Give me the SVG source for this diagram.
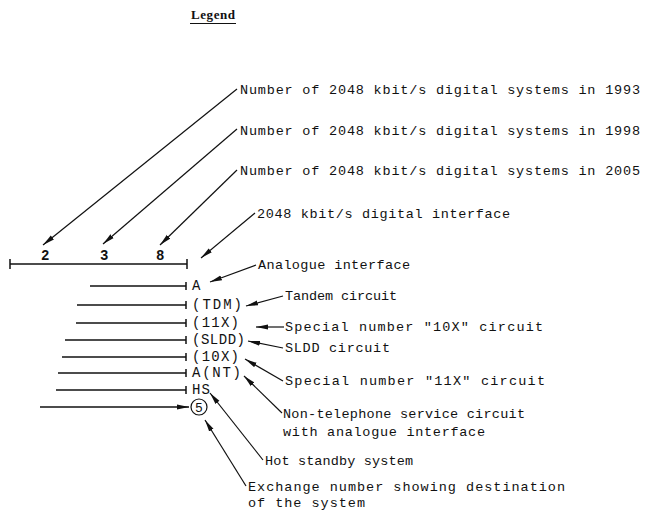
<svg xmlns="http://www.w3.org/2000/svg" width="654" height="526" viewBox="0 0 654 526">
<style>
.t{font-family:"Liberation Mono","DejaVu Sans Mono",monospace;font-size:13.5px;fill:#111}
.s{font-family:"Liberation Mono","DejaVu Sans Mono",monospace;font-size:14px;fill:#111}
.d{font-family:"Liberation Mono","DejaVu Sans Mono",monospace;font-size:14px;font-weight:bold;fill:#111}
.ttl{font-family:"Liberation Serif","DejaVu Serif",serif;font-size:13px;font-weight:bold;fill:#111}
.ln{stroke:#111;stroke-width:1.5;fill:none}
.ld{stroke:#111;stroke-width:1.2;fill:none;marker-end:url(#ah)}
</style>
<defs>
<marker id="ah" viewBox="0 0 12 6" refX="12" refY="3" markerWidth="12" markerHeight="6" markerUnits="userSpaceOnUse" orient="auto">
<path d="M0,0.5 L12,3 L0,5.5 Z" fill="#111"/>
</marker>
</defs>
<rect width="654" height="526" fill="#fff"/>
<g id="title">
<text class="ttl" x="191" y="19" textLength="44">Legend</text>
<line x1="190" y1="23.5" x2="236" y2="23.5" stroke="#111" stroke-width="1"/>
</g>
<g id="main-line">
<line class="ln" x1="10" y1="264" x2="187" y2="264"/>
<line class="ln" x1="10" y1="259" x2="10" y2="269"/>
<line class="ln" x1="187" y1="259" x2="187" y2="269"/>
<text class="d" x="41" y="260">2</text>
<text class="d" x="100" y="260">3</text>
<text class="d" x="156" y="260">8</text>
</g>
<g id="row-A">
<line class="ln" x1="90" y1="286" x2="186" y2="286"/>
<line class="ln" x1="186" y1="282" x2="186" y2="290"/>
<text class="s" x="192" y="290">A</text>
</g>
<g id="row-TDM">
<line class="ln" x1="77" y1="305" x2="186" y2="305"/>
<line class="ln" x1="186" y1="301" x2="186" y2="309"/>
<text class="s" x="192" y="309" textLength="50">(TDM)</text>
</g>
<g id="row-11X">
<line class="ln" x1="76" y1="323" x2="186" y2="323"/>
<line class="ln" x1="186" y1="319" x2="186" y2="327"/>
<text class="s" x="192" y="327" textLength="47">(11X)</text>
</g>
<g id="row-SLDD">
<line class="ln" x1="65" y1="340" x2="186" y2="340"/>
<line class="ln" x1="186" y1="336" x2="186" y2="344"/>
<text class="s" x="192" y="344" textLength="53">(SLDD)</text>
</g>
<g id="row-10X">
<line class="ln" x1="62" y1="357" x2="186" y2="357"/>
<line class="ln" x1="186" y1="353" x2="186" y2="361"/>
<text class="s" x="192" y="361" textLength="47">(10X)</text>
</g>
<g id="row-ANT">
<line class="ln" x1="58" y1="373" x2="186" y2="373"/>
<line class="ln" x1="186" y1="369" x2="186" y2="377"/>
<text class="s" x="192" y="377" textLength="49">A(NT)</text>
</g>
<g id="row-HS">
<line class="ln" x1="56" y1="390" x2="186" y2="390"/>
<line class="ln" x1="186" y1="386" x2="186" y2="394"/>
<text class="s" x="192" y="394" textLength="18">HS</text>
</g>
<g id="row-exchange">
<line class="ln" x1="40" y1="407" x2="189" y2="407" marker-end="url(#ah)"/>
<circle cx="199" cy="407" r="8" fill="none" stroke="#111" stroke-width="1.2"/>
<text class="s" x="199" y="411.5" text-anchor="middle" style="font-size:13px">5</text>
</g>
<g id="labels">
<text class="t" x="240" y="94" textLength="400">Number of 2048 kbit/s digital systems in 1993</text>
<text class="t" x="240" y="135" textLength="400">Number of 2048 kbit/s digital systems in 1998</text>
<text class="t" x="240" y="175" textLength="400">Number of 2048 kbit/s digital systems in 2005</text>
<text class="t" x="257" y="218" textLength="253">2048 kbit/s digital interface</text>
<text class="t" x="258" y="269" textLength="152">Analogue interface</text>
<text class="t" x="285" y="300" textLength="112">Tandem circuit</text>
<text class="t" x="285" y="331" textLength="258">Special number "10X" circuit</text>
<text class="t" x="285" y="352" textLength="105">SLDD circuit</text>
<text class="t" x="285" y="385" textLength="260">Special number "11X" circuit</text>
<text class="t" x="283" y="418" textLength="242">Non-telephone service circuit</text>
<text class="t" x="283" y="436" textLength="202">with analogue interface</text>
<text class="t" x="265" y="465" textLength="148">Hot standby system</text>
<text class="t" x="248" y="491" textLength="317">Exchange number showing destination</text>
<text class="t" x="248" y="507" textLength="117">of the system</text>
</g>
<g id="connectors">
<line class="ld" x1="237" y1="89" x2="43" y2="245"/>
<line class="ld" x1="237" y1="129" x2="103" y2="244"/>
<line class="ld" x1="237" y1="170" x2="160" y2="245"/>
<line class="ld" x1="255" y1="213" x2="201" y2="258"/>
<line class="ld" x1="256" y1="265" x2="210" y2="282"/>
<line class="ld" x1="283" y1="296" x2="246" y2="306"/>
<line class="ld" x1="284" y1="327" x2="256" y2="327"/>
<line class="ld" x1="283" y1="348" x2="248" y2="341"/>
<line class="ld" x1="283" y1="381" x2="245" y2="359"/>
<line class="ld" x1="282" y1="413" x2="244" y2="376"/>
<line class="ld" x1="263" y1="460" x2="210" y2="393"/>
<line class="ld" x1="246" y1="486" x2="205" y2="420"/>
</g>
</svg>
